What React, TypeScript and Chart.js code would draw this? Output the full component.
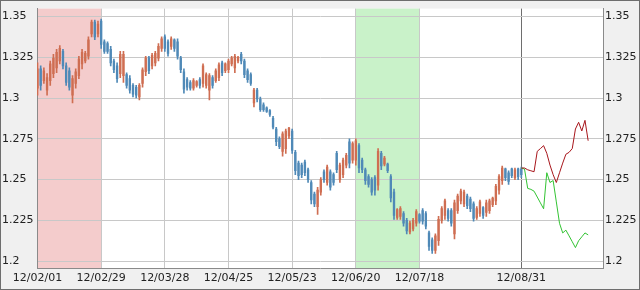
import React, { useEffect, useRef } from 'react';
import { Chart, registerables } from 'chart.js';

Chart.register(...registerables);

// ---- data ----
const X_TICKS = [0, 20, 40, 60, 80, 100, 120, 152];
const X_LABELS = ['12/02/01', '12/02/29', '12/03/28', '12/04/25', '12/05/23', '12/06/20', '12/07/18', '12/08/31'];
const Y_TICKS = [1.2, 1.225, 1.25, 1.275, 1.3, 1.325, 1.35];
const Y_MIN = 1.1958;
const Y_MAX = 1.3548;
const X_MIN = -0.16;
const X_MAX = 177.66;
const NOW_INDEX = 152;

const RED_ZONE = [0, 20];
const GREEN_ZONE = [100, 120];

const OPEN = [
  1.3060, 1.3179, 1.3107, 1.3048, 1.3107, 1.3149, 1.3185, 1.3227, 1.3286, 1.3197,
  1.3167, 1.3018, 1.3089, 1.3137, 1.3209, 1.3227, 1.3256, 1.3393, 1.3465, 1.3393,
  1.3471, 1.3345, 1.3334, 1.3298, 1.3227, 1.3197, 1.3149, 1.3137, 1.3143, 1.3119,
  1.3077, 1.3066, 1.3006, 1.3089, 1.3161, 1.3244, 1.3197, 1.3215, 1.3244, 1.3304,
  1.3375, 1.3345, 1.3316, 1.3357, 1.3345, 1.3244, 1.3161, 1.3113, 1.3095, 1.3060,
  1.3077, 1.3113, 1.3089, 1.3077, 1.3048, 1.3125, 1.3107, 1.3125, 1.3215, 1.3167,
  1.3173, 1.3209, 1.3185, 1.3227, 1.3268, 1.3227, 1.3167, 1.3143, 1.2970, 1.3048,
  1.2994, 1.2958, 1.2940, 1.2923, 1.2875, 1.2810, 1.2750, 1.2673, 1.2690, 1.2768,
  1.2798, 1.2667, 1.2601, 1.2589, 1.2607, 1.2560, 1.2482, 1.2411, 1.2334, 1.2423,
  1.2548, 1.2482, 1.2548, 1.2530, 1.2661, 1.2500, 1.2530, 1.2589, 1.2732, 1.2619,
  1.2619, 1.2708, 1.2619, 1.2560, 1.2518, 1.2500, 1.2512, 1.2465, 1.2661, 1.2595,
  1.2595, 1.2518, 1.2423, 1.2268, 1.2274, 1.2292, 1.2250, 1.2179, 1.2197, 1.2233,
  1.2286, 1.2310, 1.2292, 1.2173, 1.2131, 1.2066, 1.2125, 1.2250, 1.2280, 1.2310,
  1.2310, 1.2167, 1.2310, 1.2369, 1.2351, 1.2399, 1.2381, 1.2351, 1.2268, 1.2292,
  1.2328, 1.2298, 1.2310, 1.2346, 1.2369, 1.2435, 1.2494, 1.2566, 1.2542, 1.2566,
  1.2512, 1.2566, 1.2566,
];
const HIGH = [
  1.3215, 1.3197, 1.3185, 1.3149, 1.3227, 1.3268, 1.3298, 1.3322, 1.3298, 1.3215,
  1.3185, 1.3137, 1.3179, 1.3256, 1.3298, 1.3286, 1.3375, 1.3477, 1.3477, 1.3471,
  1.3483, 1.3357, 1.3345, 1.3316, 1.3238, 1.3215, 1.3286, 1.3286, 1.3155, 1.3137,
  1.3089, 1.3077, 1.3089, 1.3185, 1.3256, 1.3256, 1.3274, 1.3286, 1.3334, 1.3375,
  1.3387, 1.3357, 1.3375, 1.3363, 1.3363, 1.3256, 1.3179, 1.3125, 1.3107, 1.3119,
  1.3107, 1.3125, 1.3209, 1.3155, 1.3149, 1.3137, 1.3179, 1.3215, 1.3227, 1.3215,
  1.3238, 1.3256, 1.3268, 1.3256, 1.3280, 1.3238, 1.3179, 1.3155, 1.3060, 1.3060,
  1.3006, 1.2970, 1.2946, 1.2929, 1.2887, 1.2821, 1.2762, 1.2792, 1.2810, 1.2821,
  1.2810, 1.2679, 1.2613, 1.2601, 1.2619, 1.2571, 1.2494, 1.2423, 1.2453, 1.2512,
  1.2560, 1.2589, 1.2560, 1.2542, 1.2673, 1.2601, 1.2631, 1.2661, 1.2750, 1.2732,
  1.2750, 1.2720, 1.2631, 1.2571, 1.2530, 1.2512, 1.2524, 1.2690, 1.2673, 1.2643,
  1.2601, 1.2530, 1.2441, 1.2322, 1.2334, 1.2304, 1.2262, 1.2245, 1.2262, 1.2316,
  1.2292, 1.2322, 1.2304, 1.2185, 1.2143, 1.2167, 1.2274, 1.2334, 1.2381, 1.2322,
  1.2322, 1.2375, 1.2411, 1.2441, 1.2435, 1.2411, 1.2393, 1.2363, 1.2334, 1.2375,
  1.2334, 1.2375, 1.2381, 1.2393, 1.2471, 1.2530, 1.2583, 1.2571, 1.2554, 1.2571,
  1.2571, 1.2571, 1.2577,
];
const LOW = [
  1.3018, 1.3048, 1.3089, 1.3018, 1.3077, 1.3125, 1.3155, 1.3209, 1.3179, 1.3077,
  1.3048, 1.2970, 1.3060, 1.3119, 1.3179, 1.3215, 1.3238, 1.3375, 1.3357, 1.3375,
  1.3304, 1.3274, 1.3274, 1.3197, 1.3155, 1.3095, 1.3125, 1.3095, 1.3060, 1.3030,
  1.3006, 1.3000, 1.2988, 1.3066, 1.3137, 1.3149, 1.3179, 1.3197, 1.3227, 1.3286,
  1.3286, 1.3256, 1.3298, 1.3286, 1.3238, 1.3155, 1.3030, 1.3048, 1.3048, 1.3048,
  1.3066, 1.3060, 1.3066, 1.3060, 1.2988, 1.3060, 1.3095, 1.3107, 1.3137, 1.3155,
  1.3155, 1.3197, 1.3155, 1.3215, 1.3209, 1.3125, 1.3095, 1.3077, 1.2946, 1.2976,
  1.2917, 1.2917, 1.2911, 1.2887, 1.2810, 1.2708, 1.2690, 1.2643, 1.2661, 1.2750,
  1.2661, 1.2530, 1.2500, 1.2512, 1.2524, 1.2482, 1.2351, 1.2334, 1.2286, 1.2405,
  1.2482, 1.2465, 1.2435, 1.2465, 1.2542, 1.2482, 1.2512, 1.2571, 1.2571, 1.2601,
  1.2589, 1.2542, 1.2542, 1.2471, 1.2453, 1.2405, 1.2405, 1.2435, 1.2560, 1.2583,
  1.2542, 1.2363, 1.2256, 1.2256, 1.2256, 1.2215, 1.2167, 1.2167, 1.2185, 1.2215,
  1.2233, 1.2227, 1.2197, 1.2066, 1.2048, 1.2048, 1.2096, 1.2233, 1.2256, 1.2245,
  1.2215, 1.2137, 1.2292, 1.2351, 1.2334, 1.2322, 1.2304, 1.2245, 1.2256, 1.2274,
  1.2262, 1.2274, 1.2292, 1.2334, 1.2346, 1.2411, 1.2471, 1.2494, 1.2471, 1.2512,
  1.2500, 1.2500, 1.2512,
];
const CLOSE = [
  1.3179, 1.3077, 1.3167, 1.3125, 1.3209, 1.3244, 1.3280, 1.3304, 1.3197, 1.3095,
  1.3066, 1.3119, 1.3161, 1.3238, 1.3280, 1.3274, 1.3357, 1.3465, 1.3375, 1.3453,
  1.3328, 1.3286, 1.3286, 1.3215, 1.3173, 1.3119, 1.3268, 1.3268, 1.3077, 1.3048,
  1.3024, 1.3018, 1.3077, 1.3173, 1.3244, 1.3167, 1.3262, 1.3274, 1.3316, 1.3363,
  1.3304, 1.3274, 1.3363, 1.3304, 1.3256, 1.3173, 1.3054, 1.3066, 1.3060, 1.3107,
  1.3101, 1.3077, 1.3197, 1.3143, 1.3137, 1.3077, 1.3167, 1.3203, 1.3155, 1.3209,
  1.3227, 1.3244, 1.3256, 1.3250, 1.3227, 1.3143, 1.3113, 1.3089, 1.3048, 1.2994,
  1.2929, 1.2929, 1.2917, 1.2899, 1.2821, 1.2732, 1.2702, 1.2780, 1.2798, 1.2816,
  1.2679, 1.2554, 1.2524, 1.2530, 1.2542, 1.2500, 1.2375, 1.2351, 1.2435, 1.2500,
  1.2500, 1.2577, 1.2453, 1.2482, 1.2560, 1.2589, 1.2619, 1.2649, 1.2601, 1.2720,
  1.2738, 1.2571, 1.2560, 1.2494, 1.2471, 1.2423, 1.2435, 1.2673, 1.2583, 1.2631,
  1.2554, 1.2387, 1.2280, 1.2316, 1.2322, 1.2233, 1.2185, 1.2233, 1.2250, 1.2304,
  1.2245, 1.2245, 1.2215, 1.2090, 1.2066, 1.2155, 1.2256, 1.2322, 1.2369, 1.2262,
  1.2233, 1.2357, 1.2399, 1.2429, 1.2423, 1.2340, 1.2322, 1.2262, 1.2322, 1.2363,
  1.2280, 1.2357, 1.2369, 1.2387, 1.2459, 1.2518, 1.2571, 1.2512, 1.2488, 1.2524,
  1.2560, 1.2518, 1.2530,
];

// forecasts start at index 152 (12/08/31)
const FORECAST_START = 152;
const FORECAST_HIGH = [
  1.2571, 1.2571, 1.2560, 1.2554, 1.2548, 1.2673, 1.2690, 1.2708, 1.2661, 1.2589,
  1.2530, 1.2482, 1.2542, 1.2601, 1.2655, 1.2667, 1.2690, 1.2810, 1.2851, 1.2798,
  1.2863, 1.2738,
];
const FORECAST_LOW = [
  1.2571, 1.2565, 1.2446, 1.2440, 1.2429, 1.2393, 1.2357, 1.2321, 1.2542, 1.2482,
  1.2494, 1.2363, 1.2232, 1.2173, 1.2190, 1.2155, 1.2119, 1.2083, 1.2125, 1.2149,
  1.2173, 1.2161,
];

const UP_COLOR = '#cf6e52';
const DOWN_COLOR = '#4f89b7';
const FONT = { family: 'DejaVu Sans', size: 11 };
const TEXT = '#222222';

const bgPlugin = {
  id: 'bgPlugin',
  beforeDraw(chart: any) {
    const { ctx, chartArea: a, width, height } = chart;
    const xs = chart.scales.x;
    ctx.save();
    ctx.fillStyle = '#f0f0f0';
    ctx.fillRect(0, 0, width, height);
    ctx.fillStyle = '#ffffff';
    ctx.fillRect(a.left, a.top, a.right - a.left, a.bottom - a.top);
    const zones: [number[], string][] = [
      [RED_ZONE, '#f4cccc'],
      [GREEN_ZONE, '#c9f2c9'],
    ];
    zones.forEach(([z, c]) => {
      const x0 = Math.max(a.left, xs.getPixelForValue(z[0]));
      const x1 = Math.min(a.right, xs.getPixelForValue(z[1]));
      ctx.fillStyle = c;
      ctx.fillRect(x0, a.top, x1 - x0, a.bottom - a.top);
    });
    ctx.restore();
  },
  afterDraw(chart: any) {
    const { ctx, width, height } = chart;
    ctx.save();
    ctx.strokeStyle = '#6e6e6e';
    ctx.lineWidth = 1;
    ctx.strokeRect(0.5, 0.5, width - 1, height - 1);
    ctx.restore();
  },
};

export default function App() {
  const ref = useRef<HTMLCanvasElement | null>(null);

  useEffect(() => {
    if (!ref.current) return;
    const idx = OPEN.map((_, i) => i);
    const colors = idx.map((i) => (CLOSE[i] >= OPEN[i] ? UP_COLOR : DOWN_COLOR));

    const chart = new Chart(ref.current, {
      type: 'bar',
      data: {
        datasets: [
          {
            type: 'line',
            data: FORECAST_HIGH.map((v, k) => ({ x: FORECAST_START + k, y: v })),
            borderColor: '#a8161c',
            borderWidth: 1,
            pointRadius: 0,
            tension: 0,
            fill: false,
          } as any,
          {
            type: 'line',
            data: FORECAST_LOW.map((v, k) => ({ x: FORECAST_START + k, y: v })),
            borderColor: '#33c433',
            borderWidth: 1,
            pointRadius: 0,
            tension: 0,
            fill: false,
          } as any,
          {
            type: 'bar',
            data: idx.map((i) => ({ x: i, y: [OPEN[i], CLOSE[i]] })),
            backgroundColor: colors,
            borderWidth: 0,
            barThickness: 1.7,
            grouped: false,
          } as any,
          {
            type: 'bar',
            data: idx.map((i) => ({ x: i, y: [LOW[i], HIGH[i]] })),
            backgroundColor: colors,
            borderWidth: 0,
            barThickness: 1,
            grouped: false,
          } as any,
        ],
      },
      options: {
        animation: false,
        responsive: false,
        maintainAspectRatio: false,
        layout: { padding: { left: 2, top: 1, right: 0, bottom: 0 } },
        plugins: { legend: { display: false }, tooltip: { enabled: false } },
        scales: {
          x: {
            type: 'linear',
            min: X_MIN,
            max: X_MAX,
            offset: false,
            afterBuildTicks: (s: any) => {
              s.ticks = X_TICKS.map((v) => ({ value: v }));
            },
            afterFit: (s: any) => {
              s.height = 22;
            },
            grid: {
              offset: false,
              drawTicks: false,
              color: (c: any) => (c.tick && c.tick.value === NOW_INDEX ? '#6e6e6e' : '#c8c8c8'),
            },
            border: { color: '#8a8a8a' },
            ticks: {
              autoSkip: false,
              maxRotation: 0,
              minRotation: 0,
              padding: 4,
              font: FONT,
              color: TEXT,
              callback: (v: any) => {
                const k = X_TICKS.indexOf(Number(v));
                return k >= 0 ? X_LABELS[k] : '';
              },
            },
          },
          y: {
            type: 'linear',
            position: 'left',
            min: Y_MIN,
            max: Y_MAX,
            afterBuildTicks: (s: any) => {
              s.ticks = Y_TICKS.map((v) => ({ value: v }));
            },
            afterFit: (s: any) => {
              s.width = 35;
            },
            grid: { color: '#c8c8c8', drawTicks: false },
            border: { color: '#8a8a8a' },
            ticks: {
              crossAlign: 'far',
              padding: 0,
              font: FONT,
              color: TEXT,
              callback: (v: any) => String(v),
            },
          },
          y2: {
            type: 'linear',
            position: 'right',
            min: Y_MIN,
            max: Y_MAX,
            afterBuildTicks: (s: any) => {
              s.ticks = Y_TICKS.map((v) => ({ value: v }));
            },
            afterFit: (s: any) => {
              s.width = 37;
            },
            grid: { display: false, drawTicks: false },
            border: { color: '#8a8a8a' },
            ticks: {
              padding: 2,
              font: FONT,
              color: TEXT,
              callback: (v: any) => String(v),
            },
          },
        },
      } as any,
      plugins: [bgPlugin],
    });
    return () => chart.destroy();
  }, []);

  return (
    <div style={{ position: 'fixed', left: 0, top: 0, width: 640, height: 290 }}>
      <canvas ref={ref} width={640} height={290} style={{ display: 'block', width: 640, height: 290 }} />
    </div>
  );
}
